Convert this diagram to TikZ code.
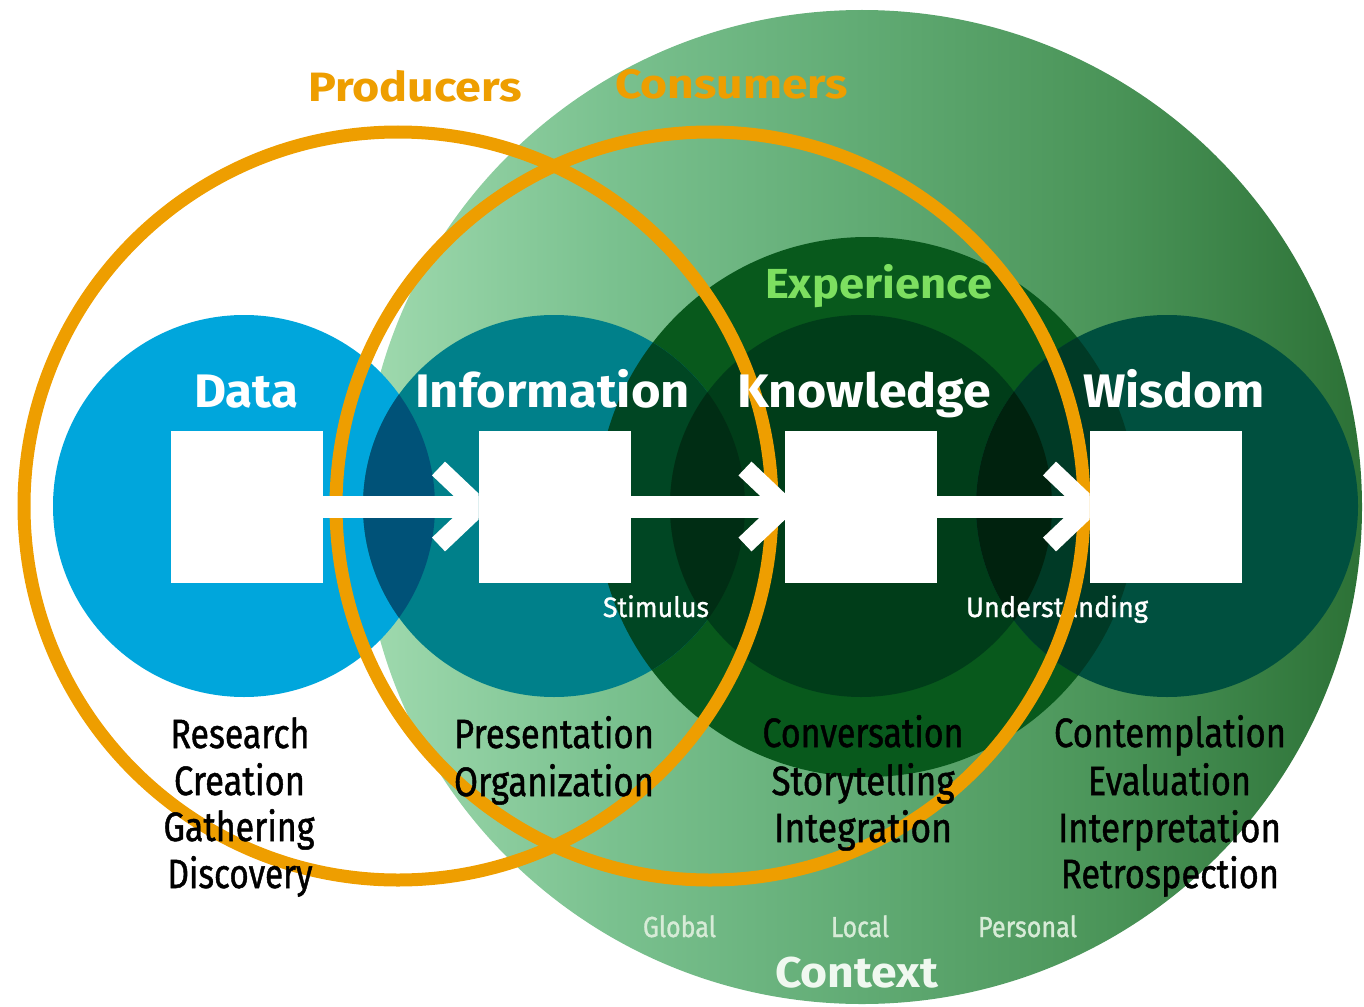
\documentclass[tikz,border=0pt]{standalone}
\usepackage{fontspec}
\setmainfont{Fira Sans}
\newfontfamily\medfont[FakeBold=1.2]{Fira Sans}
\usepackage{graphicx}
\usetikzlibrary{calc}
\definecolor{c0}{RGB}{160,218,175}
\definecolor{c1}{RGB}{122,193,143}
\definecolor{c2}{RGB}{97,171,116}
\definecolor{c3}{RGB}{74,148,88}
\definecolor{c4}{RGB}{44,113,54}
\definecolor{cE}{RGB}{8,89,28}
\definecolor{cD}{RGB}{0,166,220}
\definecolor{cI}{RGB}{0,128,138}
\definecolor{cDI}{RGB}{0,82,120}
\definecolor{cIE}{RGB}{0,70,35}
\definecolor{cK}{RGB}{0,61,25}
\definecolor{cIK}{RGB}{0,45,20}
\definecolor{cW}{RGB}{0,80,63}
\definecolor{cWE}{RGB}{0,58,38}
\definecolor{cKW}{RGB}{0,34,14}
\definecolor{orng}{RGB}{238,158,0}
\definecolor{expc}{RGB}{125,223,96}
\definecolor{ctxtext}{RGB}{215,235,215}
\definecolor{ctxbig}{RGB}{240,248,240}
\pgfdeclarehorizontalshading{ctx}{100bp}{color(0bp)=(c0); color(25bp)=(c0); color(37.5bp)=(c1); color(50bp)=(c2); color(62.5bp)=(c3); color(75bp)=(c4); color(100bp)=(c4)}
\newcommand\fitw[2]{\resizebox{#1pt}{\height}{#2}}
\begin{document}
\begin{tikzpicture}[x=1pt,y=-1pt,
  ring/.style={draw=orng, line width=13pt},
  sq/.style={fill=white, minimum width=152pt, minimum height=152pt, inner sep=0pt, outer sep=0pt},
  bar/.style={draw=white, line width=22pt},
  chev/.style={draw=white, line width=19pt, line join=miter},
  ttl/.style={anchor=base, inner sep=0pt, outer sep=0pt, text=white, font=\fontsize{47}{56}\selectfont\bfseries},
  lst/.style={anchor=base, inner sep=0pt, outer sep=0pt, text=black, font=\fontsize{41}{48}\selectfont\medfont},
  sml/.style={anchor=base, inner sep=0pt, outer sep=0pt, text=white, font=\fontsize{28}{34}\selectfont\medfont},
  ctxl/.style={anchor=base, inner sep=0pt, outer sep=0pt, text=ctxtext, font=\fontsize{29}{34}\selectfont\medfont},
  otl/.style={anchor=base, inner sep=0pt, outer sep=0pt, text=orng, font=\fontsize{41}{48}\selectfont\bfseries}
]
\useasboundingbox (0,0) rectangle (1364,1006);
\coordinate (C) at (862,507);
\coordinate (E) at (867,507);
\coordinate (D) at (244,506);
\coordinate (I) at (554,506);
\coordinate (K) at (861,506);
\coordinate (W) at (1167,506);
\coordinate (P) at (398,506);
\coordinate (Q) at (710,506);
% context
\shade[shading=ctx] (C) ellipse [x radius=500pt, y radius=497pt];
% experience
\fill[cE] (E) circle[radius=270pt];
% data, information
\fill[cD] (D) circle[radius=191pt];
\fill[cI] (I) circle[radius=191pt];
\begin{scope}
  \clip (I) circle[radius=191pt];
  \fill[cIE] (E) circle[radius=270pt];
  \fill[cDI] (D) circle[radius=191pt];
\end{scope}
% knowledge
\fill[cK] (K) circle[radius=191pt];
\begin{scope}
  \clip (I) circle[radius=191pt];
  \fill[cIK] (K) circle[radius=191pt];
\end{scope}
% wisdom
\fill[cW] (W) circle[radius=191pt];
\begin{scope}
  \clip (W) circle[radius=191pt];
  \fill[cWE] (E) circle[radius=270pt];
  \fill[cKW] (K) circle[radius=191pt];
\end{scope}
% small labels under rings
\node[sml] (stim) at (656,617) {\fitw{106}{Stimulus}};
\node[sml] (und) at (1057,617) {\fitw{182}{Understanding}};
% rings
\draw[ring] (P) circle[radius=374pt];
\draw[ring] (Q) circle[radius=374pt];
% squares
\node[sq] (sqD) at (247,506.5) {};
\node[sq] (sqI) at (554.5,506.5) {};
\node[sq] (sqK) at (861,506.5) {};
\node[sq] (sqW) at (1165.5,506.5) {};
% arrows
\foreach \a/\b in {sqD/sqI, sqI/sqK, sqK/sqW}{
  \begin{scope}
    \clip ($(\a.east)+(0,-100)$) rectangle ($(\b.west)+(0,100)$);
    \draw[bar] ($(\a.east)+(0,0.5)$) -- ($(\b.west)+(0,0.5)$);
    \draw[chev] ($(\b.west)+(-40,-38)$) -- ($(\b.west)+(0,0)$) -- ($(\b.west)+(-40,38)$);
  \end{scope}
}
% titles
\node[otl] (prod) at (415,101) {\fitw{214}{Producers}};
\node[otl] (cons) at (731.5,99) {\fitw{233}{Consumers}};
\node[ttl, text=expc, font=\fontsize{42}{50}\selectfont\bfseries] (exp) at (878.5,298) {\fitw{227}{Experience}};
\node[ttl] (tD) at (246,407) {\fitw{104}{Data}};
\node[ttl] (tI) at (552.5,407) {\fitw{275}{Information}};
\node[ttl] (tK) at (864,407) {\fitw{254}{Knowledge}};
\node[ttl] (tW) at (1174,407) {\fitw{182}{Wisdom}};
% lists
\node[lst] (d1) at (240,748) {\fitw{139}{Research}};
\node[lst] (d2) at (239.5,795) {\fitw{131}{Creation}};
\node[lst] (d3) at (239,841) {\fitw{151}{Gathering}};
\node[lst] (d4) at (240,888) {\fitw{145}{Discovery}};
\node[lst] (i1) at (554,748) {\fitw{200}{Presentation}};
\node[lst] (i2) at (554,796) {\fitw{200}{Organization}};
\node[lst] (k1) at (863,747) {\fitw{201}{Conversation}};
\node[lst] (k2) at (863,795) {\fitw{183}{Storytelling}};
\node[lst] (k3) at (863,842) {\fitw{178}{Integration}};
\node[lst] (w1) at (1170,747) {\fitw{232}{Contemplation}};
\node[lst] (w2) at (1169.5,795) {\fitw{163}{Evaluation}};
\node[lst] (w3) at (1169.5,842) {\fitw{223}{Interpretation}};
\node[lst] (w4) at (1170,888) {\fitw{218}{Retrospection}};
% context labels
\node[ctxl] (glob) at (679.5,937) {\fitw{73}{Global}};
\node[ctxl] (loc) at (860,937) {\fitw{58}{Local}};
\node[ctxl] (pers) at (1027.5,937) {\fitw{99}{Personal}};
\node[ttl, text=ctxbig, font=\fontsize{43}{50}\selectfont\bfseries] (ctx) at (856.5,987) {\fitw{163}{Context}};
\end{tikzpicture}
\end{document}
